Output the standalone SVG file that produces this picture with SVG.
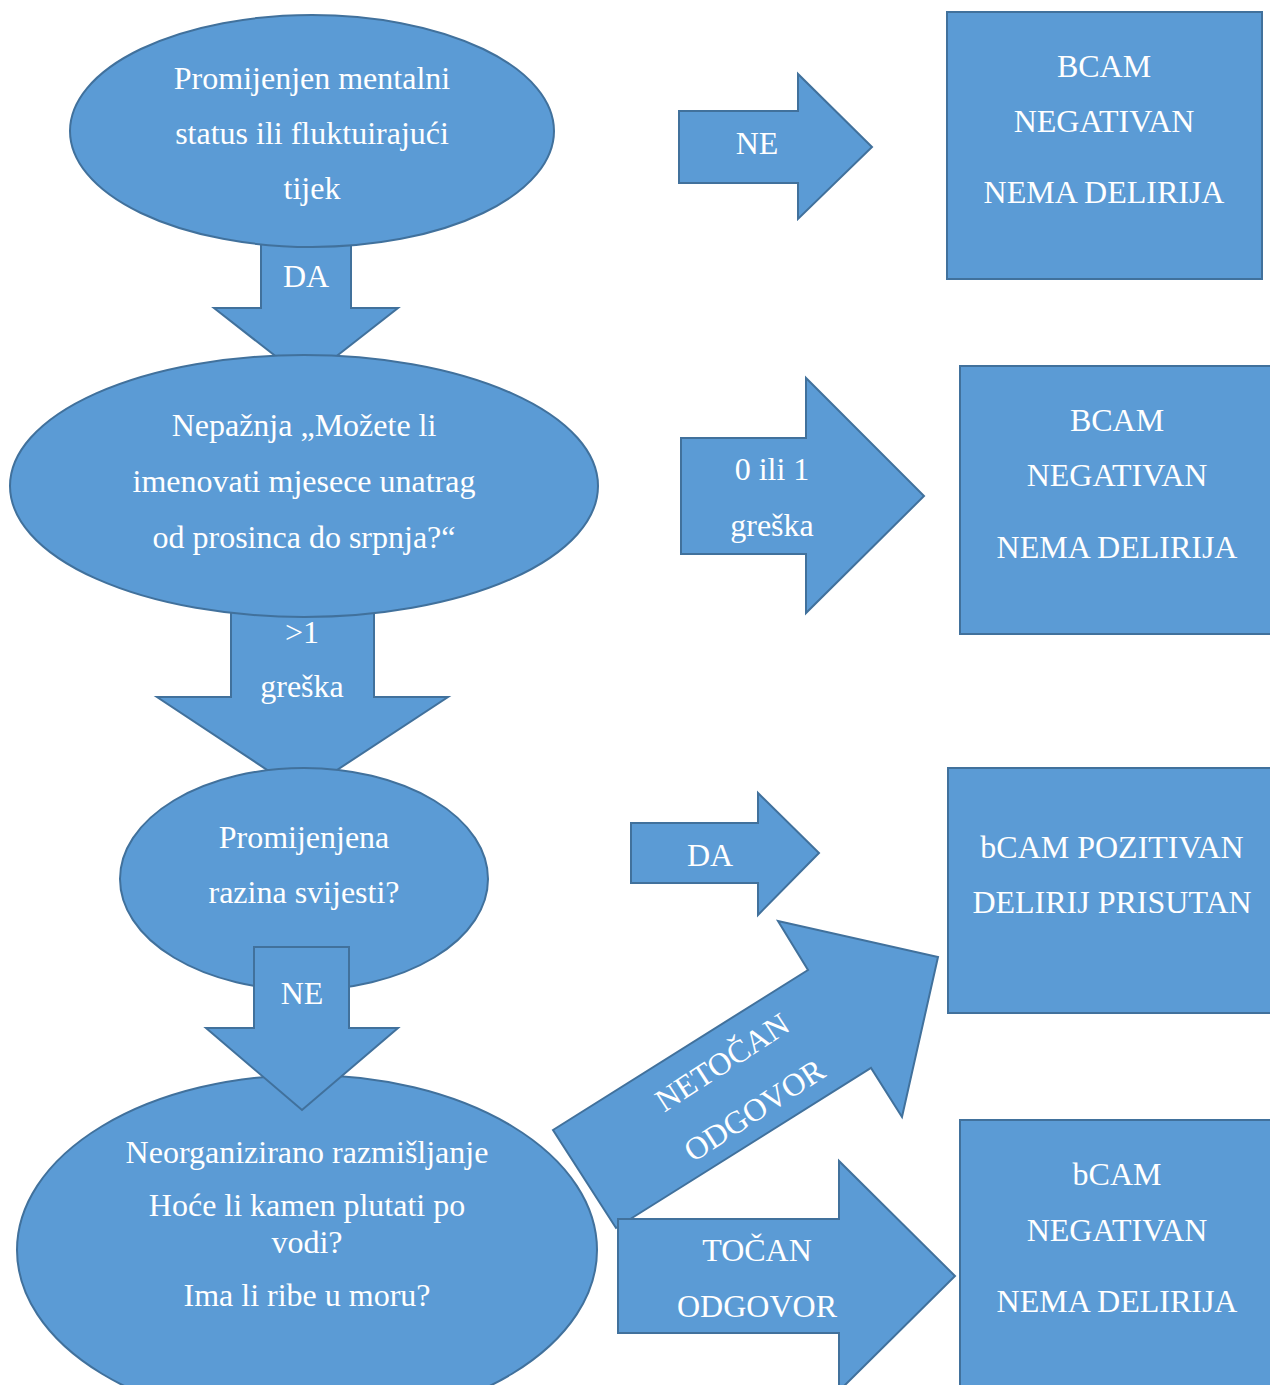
<svg xmlns="http://www.w3.org/2000/svg" width="1270" height="1385" viewBox="0 0 1270 1385">
<style>
.s{fill:#5B9BD5;stroke:#41719C;stroke-width:2;stroke-linejoin:miter}
.t{font-family:"Liberation Serif","Times New Roman",serif;font-size:32px;fill:#ffffff;text-anchor:middle}
</style>
<rect width="1270" height="1385" fill="#ffffff"/>
<g id="connectors-back">
  <g id="arrow-da-down">
    <polygon class="s" points="261,235 351,235 351,308 398,308 306,380 214,308 261,308"/>
    <text class="t" x="306" y="287">DA</text>
  </g>
  <g id="arrow-gt1-down">
    <polygon class="s" points="231,605 374,605 374,697 448,697 302,793 157,697 231,697"/>
  </g>
</g>
<g id="nodes">
  <g id="n1">
    <ellipse class="s" cx="312" cy="131" rx="242" ry="116"/>
    <text class="t" x="312" y="89">Promijenjen mentalni</text>
    <text class="t" x="312" y="144">status ili fluktuirajući</text>
    <text class="t" x="312" y="199">tijek</text>
  </g>
  <g id="n2">
    <ellipse class="s" cx="304" cy="486" rx="294" ry="131"/>
    <text class="t" x="304" y="436">Nepažnja „Možete li</text>
    <text class="t" x="304" y="492">imenovati mjesece unatrag</text>
    <text class="t" x="304" y="548">od prosinca do srpnja?“</text>
  </g>
  <g id="n3">
    <ellipse class="s" cx="304" cy="879" rx="184" ry="111"/>
    <text class="t" x="304" y="848">Promijenjena</text>
    <text class="t" x="304" y="903">razina svijesti?</text>
  </g>
  <g id="n4">
    <ellipse class="s" cx="307" cy="1250" rx="290" ry="175"/>
    <text class="t" x="307" y="1163">Neorganizirano razmišljanje</text>
    <text class="t" x="307" y="1216">Hoće li kamen plutati po</text>
    <text class="t" x="307" y="1253">vodi?</text>
    <text class="t" x="307" y="1306">Ima li ribe u moru?</text>
  </g>
  <g id="b1">
    <rect class="s" x="947" y="12" width="315" height="267"/>
    <text class="t" x="1104" y="77">BCAM</text>
    <text class="t" x="1104" y="132">NEGATIVAN</text>
    <text class="t" x="1104" y="203">NEMA DELIRIJA</text>
  </g>
  <g id="b2">
    <rect class="s" x="960" y="366" width="314" height="268"/>
    <text class="t" x="1117" y="431">BCAM</text>
    <text class="t" x="1117" y="486">NEGATIVAN</text>
    <text class="t" x="1117" y="558">NEMA DELIRIJA</text>
  </g>
  <g id="b3">
    <rect class="s" x="948" y="768" width="328" height="245"/>
    <text class="t" x="1112" y="858">bCAM POZITIVAN</text>
    <text class="t" x="1112" y="913">DELIRIJ PRISUTAN</text>
  </g>
  <g id="b4">
    <rect class="s" x="960" y="1120" width="314" height="280"/>
    <text class="t" x="1117" y="1185">bCAM</text>
    <text class="t" x="1117" y="1241">NEGATIVAN</text>
    <text class="t" x="1117" y="1312">NEMA DELIRIJA</text>
  </g>
</g>
<g id="connectors-front">
  <g id="arrow-gt1-label">
    <text class="t" x="302" y="643">&gt;1</text>
    <text class="t" x="302" y="697">greška</text>
  </g>
  <g id="arrow-ne-down">
    <polygon class="s" points="254,947 349,947 349,1028 398,1028 302,1110 206,1028 254,1028"/>
    <text class="t" x="302" y="1004">NE</text>
  </g>
  <g id="arrow-ne-right">
    <polygon class="s" points="679,111 798,111 798,74 872,147 798,219 798,183 679,183"/>
    <text class="t" x="757" y="154">NE</text>
  </g>
  <g id="arrow-01-right">
    <polygon class="s" points="681,438 806,438 806,378 924,496 806,613 806,554 681,554"/>
    <text class="t" x="772" y="480">0 ili 1</text>
    <text class="t" x="772" y="536">greška</text>
  </g>
  <g id="arrow-da-right">
    <polygon class="s" points="631,823 758,823 758,793 819,853 758,915 758,883 631,883"/>
    <text class="t" x="710" y="866">DA</text>
  </g>
  <g id="arrow-netocan">
    <polygon class="s" points="553,1130 808,970 778,921 938,957 902,1117 871,1068 616,1228"/>
    <text class="t" transform="translate(722,1062) rotate(-33)" x="0" y="11">NETOČAN</text>
    <text class="t" transform="translate(754,1110) rotate(-33)" x="0" y="11">ODGOVOR</text>
  </g>
  <g id="arrow-tocan">
    <polygon class="s" points="618,1219 839,1219 839,1161 955,1276 839,1391 839,1333 618,1333"/>
    <text class="t" x="757" y="1261">TOČAN</text>
    <text class="t" x="757" y="1317">ODGOVOR</text>
  </g>
</g>
</svg>
